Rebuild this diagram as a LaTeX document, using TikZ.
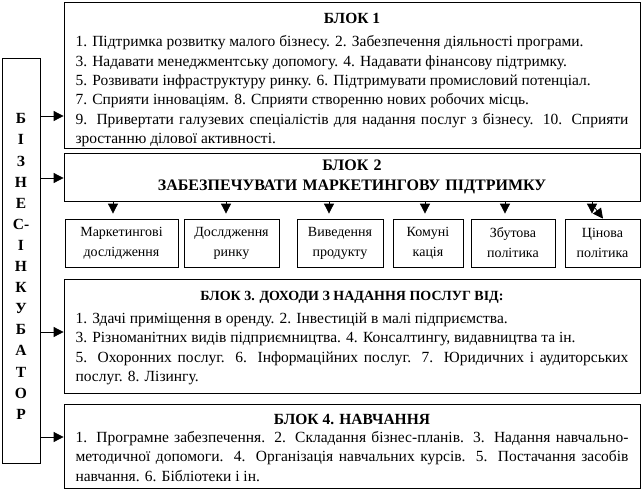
\documentclass[tikz,border=0pt]{standalone}
\usepackage{fontspec}
\setmainfont{Liberation Serif}
\usetikzlibrary{arrows.meta, positioning}

\newcommand{\blocktitle}[3][15.5]{\centerline{\rule{0pt}{#2}\fontsize{#1}{19.4}\selectfont\bfseries #3}}

\begin{document}
\begin{tikzpicture}[x=1pt, y=-1pt,
    block/.style={draw, line width=0.8pt, minimum width=576pt, text width=553pt,
                  inner sep=0pt, align=justify, font=\fontsize{15.5}{19.4}\selectfont},
    item/.style={draw, line width=0.8pt, minimum height=48pt, inner sep=0pt,
                 align=center, font=\fontsize{14}{20}\selectfont},
    arr/.style={-{Triangle[width=10pt,length=10pt]}, line width=0.8pt}
]
    \useasboundingbox (0,0) rectangle (643,490);

    % Incubator column
    \node[draw, line width=0.8pt, minimum width=38pt, minimum height=405pt,
          inner sep=0pt] (biz) at (21,260.5) {};
    \node[align=center, inner sep=0pt, font=\fontsize{15.5}{21.1}\selectfont\bfseries]
          (bizt) at ([yshift=-6pt]biz.center) {Б\\І\\З\\Н\\Е\\С-\\І\\Н\\К\\У\\Б\\А\\Т\\О\\Р};

    % Block 1
    \node[block, minimum height=146pt] (b1) at (352,75) {
        \blocktitle{20.8pt}{БЛОК 1}\vspace{3.5pt}
        1. Підтримка розвитку малого бізнесу. 2. Забезпечення діяльності програми.\\
        3. Надавати менеджментську допомогу. 4. Надавати фінансову підтримку.\\
        5. Розвивати інфраструктуру ринку. 6. Підтримувати промисловий потенціал.\\
        7. Сприяти інноваціям. 8. Сприяти створенню нових робочих місць.\\
        9. Привертати галузевих спеціалістів для надання послуг з бізнесу. 10. Сприяти\linebreak
        зростанню ділової активності.
    };

    % Block 2
    \node[block, minimum height=48pt, align=center,
          font=\fontsize{16}{19.5}\selectfont\bfseries] (b2) at (352,177) {
        БЛОК 2\\ЗАБЕЗПЕЧУВАТИ МАРКЕТИНГОВУ ПІДТРИМКУ
    };

    % Marketing items
    \node[item, minimum width=113pt] (m1) at (121.5,243) {Маркетингові\\дослідження};
    \node[item, minimum width=95pt]  (m2) at (231.5,243) {Дослдження\\ринку};
    \node[item, minimum width=86pt]  (m3) at (340,243)   {Виведення\\продукту};
    \node[item, minimum width=70pt]  (m4) at (428,243)   {Комуні\\кація};
    \node[item, minimum width=84pt]  (m5) at (513,243)   {Збутова\\політика};
    \node[item, minimum width=75pt]  (m6) at (602.5,243) {Цінова\\політика};

    % Block 3
    \node[block, minimum height=114pt] (b3) at (352,336) {
        \blocktitle[14]{13.3pt}{БЛОК 3. ДОХОДИ З НАДАННЯ ПОСЛУГ ВІД:}\vspace{4pt}
        1. Здачі приміщення в оренду. 2. Інвестицій в малі підприємства.\\
        3. Різноманітних видів підприємництва. 4. Консалтингу, видавництва та ін.\\
        5. Охоронних послуг. 6. Інформаційних послуг. 7. Юридичних і аудиторських\linebreak
        послуг. 8. Лізингу.
    };

    % Block 4
    \node[block, minimum height=84pt] (b4) at (352,446) {
        \blocktitle{14.3pt}{БЛОК 4. НАВЧАННЯ}\vspace{-2pt}
        1. Програмне забезпечення. 2. Складання бізнес-планів. 3. Надання навчально-\linebreak
        методичної допомоги. 4. Організація навчальних курсів. 5. Постачання засобів\linebreak
        навчання. 6. Бібліотеки і ін.
    };

    % Arrows from the incubator
    \foreach \b/\y in {b1/116, b2/178, b3/332, b4/437}
        \draw[arr] (biz.east |- 0,\y) -- (\b.west |- 0,\y);

    % Arrows to the items
    \foreach \m/\x in {m1/113, m2/226, m3/329, m4/425, m5/505, m6/592}
        \draw[arr] (b2.south -| \x,0) -- ([yshift=5pt]\m.north -| \x,0);
    \draw[arr] (595,208) -- (m6.north -| 603,0);
\end{tikzpicture}
\end{document}
